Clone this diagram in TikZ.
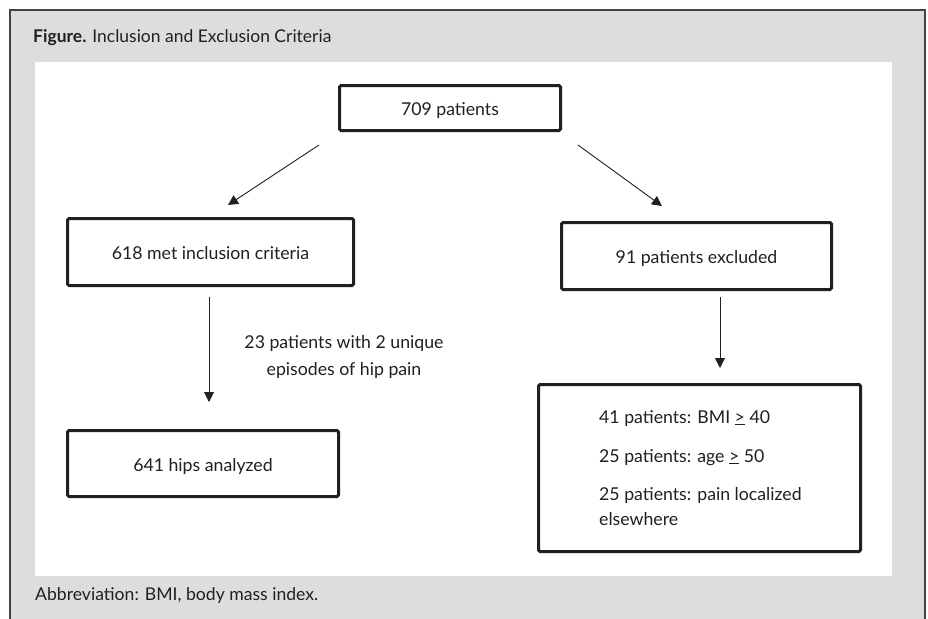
\documentclass[tikz,border=0pt]{standalone}
\usepackage{fontspec}
\setmainfont{Lato}
\usetikzlibrary{arrows.meta,calc}
\definecolor{panelgray}{HTML}{DCDDDF}
\definecolor{ink}{HTML}{231F20}
\begin{document}
\begin{tikzpicture}[x=1pt,y=-1pt,
  stepbox/.style={draw=ink,line width=3pt,rounded corners=1.5pt,fill=white,inner sep=0pt,text height=15pt,text depth=-1pt,font=\fontsize{17.7}{21}\selectfont,text=ink},
  conn/.style={draw=ink,line width=0.9pt,-{Triangle[length=10pt,width=10pt]}},
  lbl/.style={font=\fontsize{17.7}{21}\selectfont,text=ink,inner sep=0pt}]
\useasboundingbox (0,0) rectangle (928,618);
% outer panel
\fill[panelgray] (10,10) rectangle (925,630);
\draw[ink!85,line width=2.5pt] (10,630) -- (10,10) -- (925,10) -- (925,630);
\fill[white] (35,62) rectangle (892,576);
% title and footnote
\node[anchor=base west,inner sep=0pt,text=ink,font=\fontsize{17.5}{20}\selectfont] (title) at (33,43) {\textbf{Figure.} Inclusion and Exclusion Criteria};
\node[anchor=base west,inner sep=0pt,text=ink,font=\fontsize{17.6}{20}\selectfont] (abbr) at (35,600) {Abbreviation: BMI, body mass index.};
% boxes
\node[stepbox,minimum width=221,minimum height=45] (top) at (450,108) {709 patients};
\node[stepbox,minimum width=286,minimum height=67] (inc) at (210.5,252) {618 met inclusion criteria};
\node[stepbox,minimum width=270,minimum height=67] (exc) at (696.5,256) {91 patients excluded};
\node[stepbox,minimum width=271,minimum height=66] (hips) at (203,463.5) {641 hips analyzed};
\node[stepbox,minimum width=322,minimum height=167] (crit) at (699.5,468) {};
% criteria text
\node[lbl,anchor=base west] (c1) at (599,423) {41 patients: BMI \underline{>} 40};
\node[lbl,anchor=base west] (c2) at (599,462) {25 patients: age \underline{>} 50};
\node[lbl,anchor=base west] (c3) at (599,500) {25 patients: pain localized};
\node[lbl,anchor=base west] (c3b) at (599,525) {elsewhere};
% side note
\node[lbl,anchor=base] (note) at (344,348) {23 patients with 2 unique};
\node[lbl,anchor=base] (noteb) at (344,375) {episodes of hip pain};
% connector end points
\coordinate (l1) at (319,145);
\coordinate (l2) at (228,205);
\coordinate (r1) at (578,145);
\coordinate (r2) at (662,206);
\coordinate (d1) at (209,297);
\coordinate (d2) at (209,402);
\coordinate (e1) at (720,297);
\coordinate (e2) at (720,368);
\draw[conn] (l1) -- (l2);
\draw[conn] (r1) -- (r2);
\draw[conn] (d1) -- (d2);
\draw[conn] (e1) -- (e2);
\end{tikzpicture}
\end{document}
